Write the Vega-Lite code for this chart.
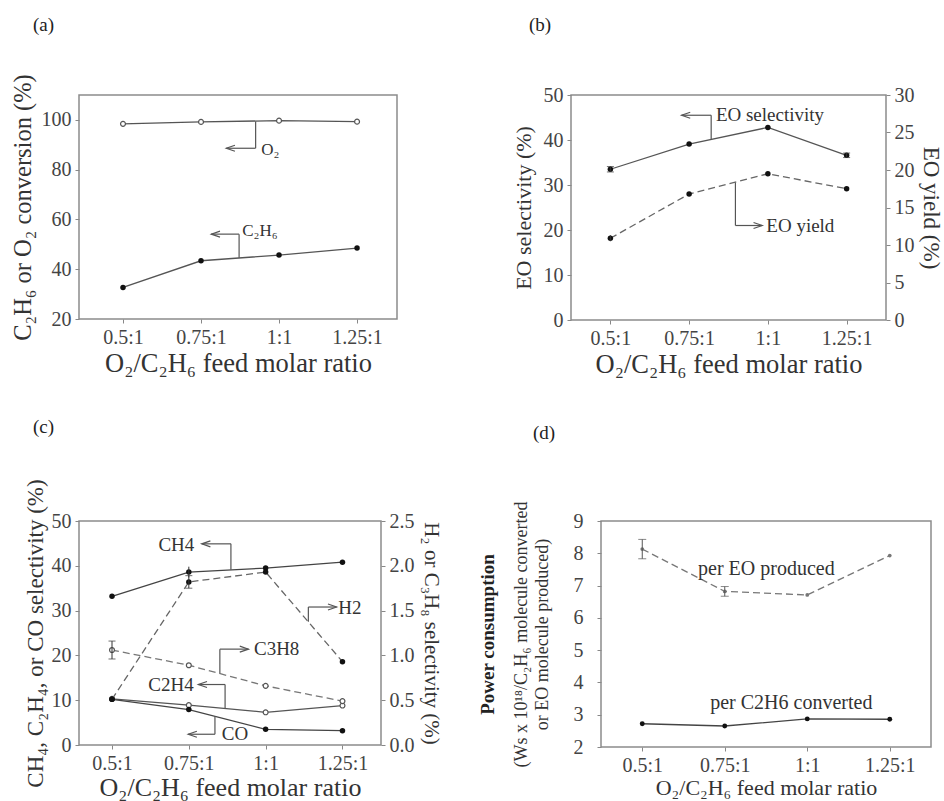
{
  "$schema": "https://vega.github.io/schema/vega-lite/v6.json",
  "background": "white",
  "padding": {"left": 9, "top": 15, "right": 0, "bottom": 0},
  "config": {
    "font": "Liberation Serif, Tinos, Times New Roman, DejaVu Serif, serif",
    "view": {"stroke": "#8c8c8c", "strokeWidth": 1.5},
    "axis": {"grid": false, "domain": false, "tickColor": "#888", "tickSize": 4, "labelColor": "#444", "titleColor": "#333", "titleFontWeight": "normal", "labelFont": "Liberation Serif, Tinos, Times New Roman, DejaVu Serif, serif", "titleFont": "Liberation Serif, Tinos, Times New Roman, DejaVu Serif, serif", "labelPadding": 4, "titlePadding": 8, "labelFlush": false, "labelOverlap": false},
    "title": {"font": "Liberation Serif, Tinos, Times New Roman, DejaVu Serif, serif", "fontSize": 19, "fontWeight": "normal", "anchor": "start", "color": "#222", "frame": "group"},
    "text": {"font": "Liberation Serif, Tinos, Times New Roman, DejaVu Serif, serif"}
  },
  "datasets": {
    "pts": [
      {"p": "a", "s": "O2", "x": 0.5, "y": 98.4}, {"p": "a", "s": "O2", "x": 0.75, "y": 99.2}, {"p": "a", "s": "O2", "x": 1, "y": 99.7}, {"p": "a", "s": "O2", "x": 1.25, "y": 99.3},
      {"p": "a", "s": "C2H6", "x": 0.5, "y": 32.7}, {"p": "a", "s": "C2H6", "x": 0.75, "y": 43.4}, {"p": "a", "s": "C2H6", "x": 1, "y": 45.7}, {"p": "a", "s": "C2H6", "x": 1.25, "y": 48.5},
      {"p": "b", "s": "sel", "x": 0.5, "y": 33.5, "lo": 32.9, "hi": 34.1}, {"p": "b", "s": "sel", "x": 0.75, "y": 39.1}, {"p": "b", "s": "sel", "x": 1, "y": 42.8}, {"p": "b", "s": "sel", "x": 1.25, "y": 36.6, "lo": 36.1, "hi": 37.1},
      {"p": "b", "s": "yld", "x": 0.5, "y": 10.9, "lo": 10.5, "hi": 11.3}, {"p": "b", "s": "yld", "x": 0.75, "y": 16.8}, {"p": "b", "s": "yld", "x": 1, "y": 19.5}, {"p": "b", "s": "yld", "x": 1.25, "y": 17.5},
      {"p": "c", "s": "CH4", "x": 0.5, "y": 33.2}, {"p": "c", "s": "CH4", "x": 0.75, "y": 38.6, "lo": 37.4, "hi": 39.8}, {"p": "c", "s": "CH4", "x": 1, "y": 39.5}, {"p": "c", "s": "CH4", "x": 1.25, "y": 40.8},
      {"p": "c", "s": "C2H4", "x": 0.5, "y": 10.3}, {"p": "c", "s": "C2H4", "x": 0.75, "y": 8.9}, {"p": "c", "s": "C2H4", "x": 1, "y": 7.3}, {"p": "c", "s": "C2H4", "x": 1.25, "y": 8.8},
      {"p": "c", "s": "CO", "x": 0.5, "y": 10.2}, {"p": "c", "s": "CO", "x": 0.75, "y": 7.9}, {"p": "c", "s": "CO", "x": 1, "y": 3.5}, {"p": "c", "s": "CO", "x": 1.25, "y": 3.2},
      {"p": "c", "s": "H2", "x": 0.5, "y": 0.51}, {"p": "c", "s": "H2", "x": 0.75, "y": 1.82, "lo": 1.75, "hi": 1.89}, {"p": "c", "s": "H2", "x": 1, "y": 1.93}, {"p": "c", "s": "H2", "x": 1.25, "y": 0.93},
      {"p": "c", "s": "C3H8", "x": 0.5, "y": 1.06, "lo": 0.96, "hi": 1.16}, {"p": "c", "s": "C3H8", "x": 0.75, "y": 0.89}, {"p": "c", "s": "C3H8", "x": 1, "y": 0.66}, {"p": "c", "s": "C3H8", "x": 1.25, "y": 0.49},
      {"p": "d", "s": "EO", "x": 0.5, "y": 8.13, "lo": 7.83, "hi": 8.43}, {"p": "d", "s": "EO", "x": 0.75, "y": 6.82, "lo": 6.67, "hi": 6.97}, {"p": "d", "s": "EO", "x": 1, "y": 6.71}, {"p": "d", "s": "EO", "x": 1.25, "y": 7.93},
      {"p": "d", "s": "C2H6", "x": 0.5, "y": 2.72}, {"p": "d", "s": "C2H6", "x": 0.75, "y": 2.65}, {"p": "d", "s": "C2H6", "x": 1, "y": 2.87}, {"p": "d", "s": "C2H6", "x": 1.25, "y": 2.86}
    ],
    "rules": [
      {"p": "a", "x": 0.925, "y": 99.4, "x2": 0.925, "y2": 88.6}, {"p": "a", "x": 0.925, "y": 88.6, "x2": 0.831, "y2": 88.6},
      {"p": "a", "x": 0.872, "y": 44.6, "x2": 0.872, "y2": 54.1}, {"p": "a", "x": 0.872, "y": 54.1, "x2": 0.783, "y2": 54.1},
      {"p": "b", "x": 0.82, "y": 40.1, "x2": 0.82, "y2": 45.5}, {"p": "b", "x": 0.82, "y": 45.5, "x2": 0.726, "y2": 45.5},
      {"p": "b", "x": 0.897, "y": 30.6, "x2": 0.897, "y2": 21.0}, {"p": "b", "x": 0.897, "y": 21.0, "x2": 0.982, "y2": 21.0},
      {"p": "c", "x": 0.887, "y": 39.1, "x2": 0.887, "y2": 44.9}, {"p": "c", "x": 0.887, "y": 44.9, "x2": 0.792, "y2": 44.9},
      {"p": "c", "x": 1.139, "y": 27.5, "x2": 1.139, "y2": 30.8}, {"p": "c", "x": 1.139, "y": 30.8, "x2": 1.231, "y2": 30.8},
      {"p": "c", "x": 0.851, "y": 15.9, "x2": 0.851, "y2": 21.4}, {"p": "c", "x": 0.851, "y": 21.4, "x2": 0.944, "y2": 21.4},
      {"p": "c", "x": 0.868, "y": 8.2, "x2": 0.868, "y2": 13.5}, {"p": "c", "x": 0.868, "y": 13.5, "x2": 0.781, "y2": 13.5},
      {"p": "c", "x": 0.835, "y": 6.5, "x2": 0.835, "y2": 2.4}, {"p": "c", "x": 0.835, "y": 2.4, "x2": 0.748, "y2": 2.4}
    ],
    "arrows": [
      {"p": "a", "x": 0.831, "y": 88.6, "d": "L"}, {"p": "a", "x": 0.783, "y": 54.1, "d": "L"},
      {"p": "b", "x": 0.726, "y": 45.5, "d": "L"}, {"p": "b", "x": 0.982, "y": 21.0, "d": "R"},
      {"p": "c", "x": 0.792, "y": 44.9, "d": "L"}, {"p": "c", "x": 1.231, "y": 30.8, "d": "R"}, {"p": "c", "x": 0.944, "y": 21.4, "d": "R"}, {"p": "c", "x": 0.781, "y": 13.5, "d": "L"}, {"p": "c", "x": 0.748, "y": 2.4, "d": "L"}
    ],
    "labels": [
      {"p": "a", "x": 0.943, "y": 88.0, "t": "O₂"}, {"p": "a", "x": 0.882, "y": 55.3, "t": "C₂H₆"},
      {"p": "b", "x": 0.835, "y": 45.6, "t": "EO selectivity"}, {"p": "b", "x": 0.995, "y": 21.0, "t": "EO yield"},
      {"p": "c", "x": 0.651, "y": 44.6, "t": "CH4"}, {"p": "c", "x": 1.236, "y": 30.6, "t": "H2"}, {"p": "c", "x": 0.962, "y": 21.4, "t": "C3H8"}, {"p": "c", "x": 0.618, "y": 13.3, "t": "C2H4"}, {"p": "c", "x": 0.857, "y": 2.4, "t": "CO"},
      {"p": "d", "x": 0.669, "y": 7.52, "t": "per EO produced"}, {"p": "d", "x": 0.706, "y": 3.36, "t": "per C2H6 converted"}
    ]
  },
  "spacing": 38,
  "vconcat": [
    {
      "spacing": 113,
      "hconcat": [
        {
          "width": 318, "height": 224,
          "title": {"text": "(a)", "dx": -46, "offset": 39},
          "encoding": {
            "x": {"field": "x", "type": "quantitative", "scale": {"domain": [0.359, 1.378], "nice": false, "zero": false}, "axis": {"values": [0.5, 0.75, 1, 1.25], "labelExpr": "datum.value + ':1'", "title": "O₂/C₂H₆ feed molar ratio", "titleFontSize": 26.5, "labelFontSize": 20, "titlePadding": 3}},
            "y": {"field": "y", "type": "quantitative", "scale": {"domain": [20, 110], "nice": false, "zero": false}, "axis": {"values": [20, 40, 60, 80, 100], "title": "C₂H₆ or O₂ conversion (%)", "titleFontSize": 24.5, "labelFontSize": 20, "titlePadding": 6}}
          },
          "layer": [
            {"data": {"name": "pts"}, "transform": [{"filter": "datum.p=='a' && datum.s=='O2'"}], "mark": {"type": "line", "color": "#555", "strokeWidth": 1.3}},
            {"data": {"name": "pts"}, "transform": [{"filter": "datum.p=='a' && datum.s=='O2'"}], "mark": {"type": "point", "filled": true, "fill": "white", "stroke": "#555", "size": 24, "strokeWidth": 1.2, "opacity": 1}},
            {"data": {"name": "pts"}, "transform": [{"filter": "datum.p=='a' && datum.s=='C2H6'"}], "mark": {"type": "line", "color": "#555", "strokeWidth": 1.3}},
            {"data": {"name": "pts"}, "transform": [{"filter": "datum.p=='a' && datum.s=='C2H6'"}], "mark": {"type": "point", "filled": true, "color": "#111", "size": 30, "opacity": 1}},
            {"data": {"name": "rules"}, "transform": [{"filter": "datum.p=='a'"}], "mark": {"type": "rule", "color": "#555", "strokeWidth": 1.2}, "encoding": {"x2": {"field": "x2"}, "y2": {"field": "y2"}}},
            {"data": {"name": "arrows"}, "transform": [{"filter": "datum.p=='a' && datum.d=='L'"}], "mark": {"type": "point", "shape": "M 1 -0.35 L 0 0 L 1 0.35", "size": 300, "filled": false, "color": "#555", "strokeWidth": 1.2, "opacity": 1}},
            {"data": {"name": "labels"}, "transform": [{"filter": "datum.p=='a'"}], "mark": {"type": "text", "align": "left", "baseline": "middle", "fontSize": 17, "color": "#333"}, "encoding": {"text": {"field": "t"}}}
          ]
        },
        {
          "width": 315, "height": 225,
          "title": {"text": "(b)", "dx": -42, "offset": 50},
          "resolve": {"scale": {"y": "independent"}},
          "layer": [
            {
              "encoding": {
                "x": {"field": "x", "type": "quantitative", "scale": {"domain": [0.375, 1.375], "nice": false, "zero": false}, "axis": {"values": [0.5, 0.75, 1, 1.25], "labelExpr": "datum.value + ':1'", "title": "O₂/C₂H₆ feed molar ratio", "titleFontSize": 26.5, "labelFontSize": 20, "titlePadding": 3}},
                "y": {"field": "y", "type": "quantitative", "scale": {"domain": [0, 50], "nice": false}, "axis": {"values": [0, 10, 20, 30, 40, 50], "title": "EO selectivity (%)", "titleFontSize": 22, "labelFontSize": 20, "titlePadding": 8}}
              },
              "layer": [
                {"data": {"name": "pts"}, "transform": [{"filter": "datum.p=='b' && datum.s=='sel'"}], "mark": {"type": "line", "color": "#555", "strokeWidth": 1.3}},
                {"data": {"name": "pts"}, "transform": [{"filter": "datum.p=='b' && datum.s=='sel'"}], "mark": {"type": "point", "filled": true, "color": "#111", "size": 30, "opacity": 1}},
                {"data": {"name": "pts"}, "transform": [{"filter": "datum.p=='b' && datum.s=='sel' && isValid(datum.lo)"}], "mark": {"type": "rule", "color": "#333", "strokeWidth": 1}, "encoding": {"y": {"field": "lo", "type": "quantitative"}, "y2": {"field": "hi"}}},
                {"data": {"name": "pts"}, "transform": [{"filter": "datum.p=='b' && datum.s=='sel' && isValid(datum.lo)"}], "mark": {"type": "tick", "orient": "horizontal", "color": "#333", "size": 7, "thickness": 1}, "encoding": {"y": {"field": "lo", "type": "quantitative"}}},
                {"data": {"name": "pts"}, "transform": [{"filter": "datum.p=='b' && datum.s=='sel' && isValid(datum.lo)"}], "mark": {"type": "tick", "orient": "horizontal", "color": "#333", "size": 7, "thickness": 1}, "encoding": {"y": {"field": "hi", "type": "quantitative"}}},
                {"data": {"name": "rules"}, "transform": [{"filter": "datum.p=='b'"}], "mark": {"type": "rule", "color": "#555", "strokeWidth": 1.2}, "encoding": {"x2": {"field": "x2"}, "y2": {"field": "y2"}}},
                {"data": {"name": "arrows"}, "transform": [{"filter": "datum.p=='b' && datum.d=='L'"}], "mark": {"type": "point", "shape": "M 1 -0.35 L 0 0 L 1 0.35", "size": 300, "filled": false, "color": "#555", "strokeWidth": 1.2, "opacity": 1}},
                {"data": {"name": "arrows"}, "transform": [{"filter": "datum.p=='b' && datum.d=='R'"}], "mark": {"type": "point", "shape": "M -1 -0.35 L 0 0 L -1 0.35", "size": 300, "filled": false, "color": "#555", "strokeWidth": 1.2, "opacity": 1}},
                {"data": {"name": "labels"}, "transform": [{"filter": "datum.p=='b'"}], "mark": {"type": "text", "align": "left", "baseline": "middle", "fontSize": 19, "color": "#333"}, "encoding": {"text": {"field": "t"}}}
              ]
            },
            {
              "encoding": {
                "x": {"field": "x", "type": "quantitative", "scale": {"domain": [0.375, 1.375], "nice": false, "zero": false}},
                "y": {"field": "y", "type": "quantitative", "scale": {"domain": [0, 30], "nice": false}, "axis": {"orient": "right", "values": [0, 5, 10, 15, 20, 25, 30], "title": "EO yield (%)", "titleFontSize": 23, "labelFontSize": 20, "titlePadding": 4}}
              },
              "layer": [
                {"data": {"name": "pts"}, "transform": [{"filter": "datum.p=='b' && datum.s=='yld'"}], "mark": {"type": "line", "color": "#666", "strokeWidth": 1.3, "strokeDash": [7, 4]}},
                {"data": {"name": "pts"}, "transform": [{"filter": "datum.p=='b' && datum.s=='yld'"}], "mark": {"type": "point", "filled": true, "color": "#111", "size": 30, "opacity": 1}},
                {"data": {"name": "pts"}, "transform": [{"filter": "datum.p=='b' && datum.s=='yld' && isValid(datum.lo)"}], "mark": {"type": "rule", "color": "#333", "strokeWidth": 1}, "encoding": {"y": {"field": "lo", "type": "quantitative"}, "y2": {"field": "hi"}}}
              ]
            }
          ]
        }
      ]
    },
    {
      "spacing": 35,
      "hconcat": [
        {
          "width": 302, "height": 224,
          "title": {"text": "(c)", "dx": -46, "offset": 42},
          "resolve": {"scale": {"y": "independent"}},
          "layer": [
            {
              "encoding": {
                "x": {"field": "x", "type": "quantitative", "scale": {"domain": [0.3926, 1.3754], "nice": false, "zero": false}, "axis": {"values": [0.5, 0.75, 1, 1.25], "labelExpr": "datum.value + ':1'", "title": "O₂/C₂H₆ feed molar ratio", "titleFontSize": 26, "labelFontSize": 20, "titlePadding": 1}},
                "y": {"field": "y", "type": "quantitative", "scale": {"domain": [0, 50], "nice": false}, "axis": {"values": [0, 10, 20, 30, 40, 50], "title": "CH₄, C₂H₄, or CO selectivity (%)", "titleFontSize": 23, "labelFontSize": 20, "titlePadding": 4}}
              },
              "layer": [
                {"data": {"name": "pts"}, "transform": [{"filter": "datum.p=='c' && datum.s=='CH4'"}], "mark": {"type": "line", "color": "#444", "strokeWidth": 1.3}},
                {"data": {"name": "pts"}, "transform": [{"filter": "datum.p=='c' && datum.s=='CH4'"}], "mark": {"type": "point", "filled": true, "color": "#111", "size": 30, "opacity": 1}},
                {"data": {"name": "pts"}, "transform": [{"filter": "datum.p=='c' && datum.s=='C2H4'"}], "mark": {"type": "line", "color": "#555", "strokeWidth": 1.3}},
                {"data": {"name": "pts"}, "transform": [{"filter": "datum.p=='c' && datum.s=='C2H4'"}], "mark": {"type": "point", "filled": true, "fill": "white", "stroke": "#555", "size": 24, "strokeWidth": 1.2, "opacity": 1}},
                {"data": {"name": "pts"}, "transform": [{"filter": "datum.p=='c' && datum.s=='CO'"}], "mark": {"type": "line", "color": "#444", "strokeWidth": 1.3}},
                {"data": {"name": "pts"}, "transform": [{"filter": "datum.p=='c' && datum.s=='CO'"}], "mark": {"type": "point", "filled": true, "color": "#111", "size": 30, "opacity": 1}},
                {"data": {"name": "pts"}, "transform": [{"filter": "datum.p=='c' && datum.s=='CH4' && isValid(datum.lo)"}], "mark": {"type": "rule", "color": "#333", "strokeWidth": 1}, "encoding": {"y": {"field": "lo", "type": "quantitative"}, "y2": {"field": "hi"}}},
                {"data": {"name": "rules"}, "transform": [{"filter": "datum.p=='c'"}], "mark": {"type": "rule", "color": "#555", "strokeWidth": 1.2}, "encoding": {"x2": {"field": "x2"}, "y2": {"field": "y2"}}},
                {"data": {"name": "arrows"}, "transform": [{"filter": "datum.p=='c' && datum.d=='L'"}], "mark": {"type": "point", "shape": "M 1 -0.35 L 0 0 L 1 0.35", "size": 300, "filled": false, "color": "#555", "strokeWidth": 1.2, "opacity": 1}},
                {"data": {"name": "arrows"}, "transform": [{"filter": "datum.p=='c' && datum.d=='R'"}], "mark": {"type": "point", "shape": "M -1 -0.35 L 0 0 L -1 0.35", "size": 300, "filled": false, "color": "#555", "strokeWidth": 1.2, "opacity": 1}},
                {"data": {"name": "labels"}, "transform": [{"filter": "datum.p=='c'"}], "mark": {"type": "text", "align": "left", "baseline": "middle", "fontSize": 19, "color": "#333"}, "encoding": {"text": {"field": "t"}}}
              ]
            },
            {
              "encoding": {
                "x": {"field": "x", "type": "quantitative", "scale": {"domain": [0.3926, 1.3754], "nice": false, "zero": false}},
                "y": {"field": "y", "type": "quantitative", "scale": {"domain": [0, 2.5], "nice": false}, "axis": {"orient": "right", "values": [0, 0.5, 1, 1.5, 2, 2.5], "format": ".1f", "title": "H₂ or C₃H₈ selectivity (%)", "titleFontSize": 21, "labelFontSize": 20, "titlePadding": 6}}
              },
              "layer": [
                {"data": {"name": "pts"}, "transform": [{"filter": "datum.p=='c' && datum.s=='H2'"}], "mark": {"type": "line", "color": "#666", "strokeWidth": 1.3, "strokeDash": [7, 4]}},
                {"data": {"name": "pts"}, "transform": [{"filter": "datum.p=='c' && datum.s=='H2'"}], "mark": {"type": "point", "filled": true, "color": "#111", "size": 30, "opacity": 1}},
                {"data": {"name": "pts"}, "transform": [{"filter": "datum.p=='c' && datum.s=='C3H8'"}], "mark": {"type": "line", "color": "#777", "strokeWidth": 1.3, "strokeDash": [7, 4]}},
                {"data": {"name": "pts"}, "transform": [{"filter": "datum.p=='c' && datum.s=='C3H8'"}], "mark": {"type": "point", "filled": true, "fill": "white", "stroke": "#555", "size": 24, "strokeWidth": 1.2, "opacity": 1}},
                {"data": {"name": "pts"}, "transform": [{"filter": "datum.p=='c' && (datum.s=='H2' || datum.s=='C3H8') && isValid(datum.lo)"}], "mark": {"type": "rule", "color": "#333", "strokeWidth": 1}, "encoding": {"y": {"field": "lo", "type": "quantitative"}, "y2": {"field": "hi"}}},
                {"data": {"name": "pts"}, "transform": [{"filter": "datum.p=='c' && (datum.s=='H2' || datum.s=='C3H8') && isValid(datum.lo)"}], "mark": {"type": "tick", "orient": "horizontal", "color": "#333", "size": 7, "thickness": 1}, "encoding": {"y": {"field": "lo", "type": "quantitative"}}},
                {"data": {"name": "pts"}, "transform": [{"filter": "datum.p=='c' && (datum.s=='H2' || datum.s=='C3H8') && isValid(datum.lo)"}], "mark": {"type": "tick", "orient": "horizontal", "color": "#333", "size": 7, "thickness": 1}, "encoding": {"y": {"field": "hi", "type": "quantitative"}}}
              ]
            }
          ]
        },
        {
          "width": 330, "height": 226,
          "title": {"text": "(d)", "dx": -68, "offset": 58},
          "resolve": {"scale": {"y": "independent"}, "axis": {"y": "independent"}},
          "layer": [
            {
              "encoding": {
                "x": {"field": "x", "type": "quantitative", "scale": {"domain": [0.375, 1.375], "nice": false, "zero": false}, "axis": {"values": [0.5, 0.75, 1, 1.25], "labelExpr": "datum.value + ':1'", "title": "O₂/C₂H₆ feed molar ratio", "titleFontSize": 22, "labelFontSize": 20, "titlePadding": 2}},
                "y": {"field": "y", "type": "quantitative", "scale": {"domain": [2, 9], "nice": false, "zero": false}, "axis": {"values": [2, 3, 4, 5, 6, 7, 8, 9], "title": ["(Ws x 10¹⁸/C₂H₆ molecule converted", "or EO molecule produced)"], "titleFontSize": 18, "titleLineHeight": 21, "labelFontSize": 20, "labelPadding": 14, "titlePadding": 22}}
              },
              "layer": [
                {"data": {"name": "pts"}, "transform": [{"filter": "datum.p=='d' && datum.s=='EO'"}], "mark": {"type": "line", "color": "#777", "strokeWidth": 1.3, "strokeDash": [7, 4]}},
                {"data": {"name": "pts"}, "transform": [{"filter": "datum.p=='d' && datum.s=='EO'"}], "mark": {"type": "point", "filled": true, "color": "#777", "size": 14, "opacity": 1}},
                {"data": {"name": "pts"}, "transform": [{"filter": "datum.p=='d' && datum.s=='EO' && isValid(datum.lo)"}], "mark": {"type": "rule", "color": "#555", "strokeWidth": 1}, "encoding": {"y": {"field": "lo", "type": "quantitative"}, "y2": {"field": "hi"}}},
                {"data": {"name": "pts"}, "transform": [{"filter": "datum.p=='d' && datum.s=='EO' && isValid(datum.lo)"}], "mark": {"type": "tick", "orient": "horizontal", "color": "#555", "size": 8, "thickness": 1}, "encoding": {"y": {"field": "lo", "type": "quantitative"}}},
                {"data": {"name": "pts"}, "transform": [{"filter": "datum.p=='d' && datum.s=='EO' && isValid(datum.lo)"}], "mark": {"type": "tick", "orient": "horizontal", "color": "#555", "size": 8, "thickness": 1}, "encoding": {"y": {"field": "hi", "type": "quantitative"}}},
                {"data": {"name": "pts"}, "transform": [{"filter": "datum.p=='d' && datum.s=='C2H6'"}], "mark": {"type": "line", "color": "#444", "strokeWidth": 1.3}},
                {"data": {"name": "pts"}, "transform": [{"filter": "datum.p=='d' && datum.s=='C2H6'"}], "mark": {"type": "point", "filled": true, "color": "#111", "size": 24, "opacity": 1}},
                {"data": {"name": "labels"}, "transform": [{"filter": "datum.p=='d'"}], "mark": {"type": "text", "align": "left", "baseline": "middle", "fontSize": 20, "color": "#333"}, "encoding": {"text": {"field": "t"}}}
              ]
            },
            {
              "encoding": {
                "x": {"field": "x", "type": "quantitative", "scale": {"domain": [0.375, 1.375], "nice": false, "zero": false}},
                "y": {"field": "y", "type": "quantitative", "scale": {"domain": [2, 9], "nice": false, "zero": false}, "axis": {"orient": "left", "labels": false, "ticks": false, "domain": false, "title": "Power consumption", "titleFontSize": 19, "titleFontWeight": "bold", "titleColor": "#222", "titlePadding": 104}}
              },
              "layer": [
                {"data": {"name": "pts"}, "transform": [{"filter": "datum.p=='d' && datum.s=='C2H6'"}], "mark": {"type": "point", "opacity": 0}}
              ]
            }
          ]
        }
      ]
    }
  ]
}
